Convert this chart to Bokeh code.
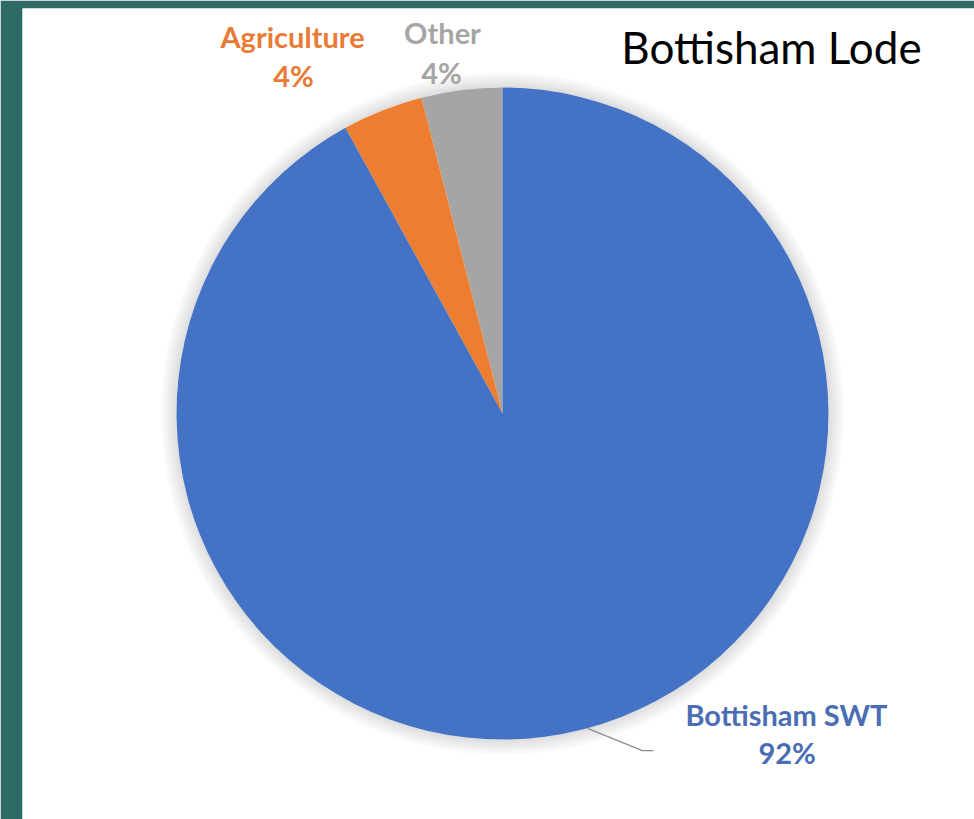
import math
from bokeh.plotting import figure
from bokeh.models import ColumnDataSource, Range1d
from bokeh.embed import file_html
from bokeh.resources import INLINE
from bokeh.core.properties import value

# ---- data ----
categories = ["Bottisham SWT", "Agriculture", "Other"]
shares = [92, 4, 4]
colors = ["#4472C4", "#ED7D31", "#A5A5A5"]
label_colors = ["#4A6DB3", "#E87B35", "#A5A5A5"]
title_text = "Bottisham Lode"

# ---- geometry ----
W, H = 974, 819
left_pad, top_pad = 22, 8
R_PX = 326.0
CX_PX, CY_PX = 502.0, 413.0

p = figure(width=W, height=H, output_backend="svg", toolbar_location=None,
           min_border_left=left_pad, min_border_top=top_pad,
           min_border_right=0, min_border_bottom=0,
           border_fill_color="#2D6A66", background_fill_color="white",
           outline_line_color=None)
p.x_range = Range1d((left_pad - CX_PX) / R_PX, (W - CX_PX) / R_PX)
p.y_range = Range1d((CY_PX - H) / R_PX, (CY_PX - top_pad) / R_PX)
p.axis.visible = False
p.grid.visible = False

# soft shadow around the pie
for k in range(1, 9):
    p.annulus(x=0, y=0, inner_radius=1.0, outer_radius=1.0 + k * 0.006,
              fill_color="#808080", fill_alpha=0.03, line_color=None)

order = ["Other", "Agriculture", "Bottisham SWT"]
total = float(sum(shares))
starts, ends, cols = [], [], []
ang = math.pi / 2
for name in order:
    i = categories.index(name)
    sweep = shares[i] / total * 2 * math.pi
    starts.append(ang)
    ends.append(ang + sweep)
    cols.append(colors[i])
    ang += sweep

src = ColumnDataSource(dict(start=starts, end=ends, color=cols))
p.wedge(x=0, y=0, radius=1.0, start_angle="start", end_angle="end",
        fill_color="color", line_color=None, source=src)

# labels
label_pos = {
    "Agriculture": ((-0.644, 1.155), (-0.641, 1.037)),
    "Other": ((-0.184, 1.170), (-0.187, 1.045)),
    "Bottisham SWT": ((0.871, -0.922), (0.873, -1.040)),
}
for i, name in enumerate(categories):
    (nx, ny), (vx, vy) = label_pos[name]
    p.text(x=[nx], y=[ny], text=[name], text_color=label_colors[i],
           text_font=value("Lato"), text_font_style="bold", text_font_size="29px",
           text_align="center", text_baseline="middle")
    p.text(x=[vx], y=[vy], text=[f"{shares[i]}%"], text_color=label_colors[i],
           text_font=value("Lato"), text_font_style="bold", text_font_size="29px",
           text_align="center", text_baseline="middle")

# leader line for the big slice
p.line(x=[0.261, 0.429, 0.463], y=[-0.966, -1.034, -1.034],
       line_color="#8C8C8C", line_width=1.2)

# title
p.text(x=[0.825], y=[1.123], text=[title_text], text_color="black",
       text_font=value("Lato"), text_font_size="44px",
       text_align="center", text_baseline="middle")

open("out.html", "w").write(file_html(p, INLINE))
